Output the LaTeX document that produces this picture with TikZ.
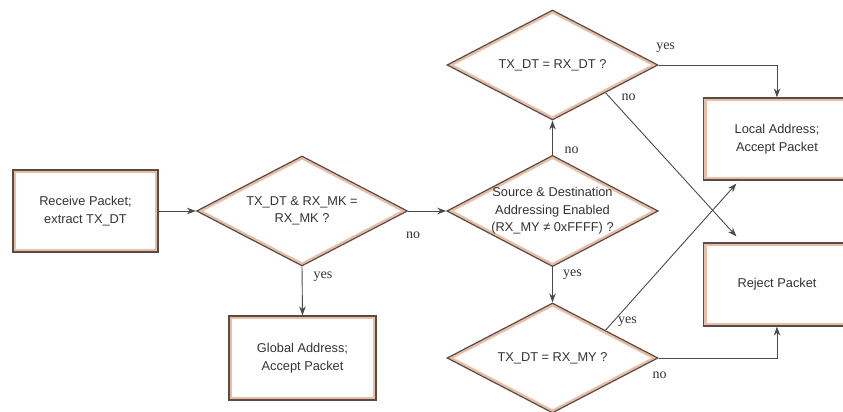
\documentclass[tikz,border=0pt]{standalone}
\usepackage{fontspec}
\usepackage{tikz}
\usetikzlibrary{arrows.meta}
\usetikzlibrary{shapes.geometric}
\newfontfamily\boxfont{Liberation Sans}
\newfontfamily\labfont{Liberation Serif}
\definecolor{edgebrown}{HTML}{5A4A44}
\definecolor{bandtan}{HTML}{E8BFA6}
\definecolor{textgray}{HTML}{333333}
\definecolor{wiregray}{HTML}{4A4A4A}
\tikzset{
frame/.style={draw=edgebrown, line width=1.2pt, fill=white, text=textgray, align=center,
  font=\boxfont\fontsize{12.8}{17.5}\selectfont},
box/.style={frame, rectangle, minimum width=147pt, minimum height=83pt,
  path picture={\draw[bandtan, line width=6pt] (path picture bounding box.south west) rectangle (path picture bounding box.north east);}},
test/.style={frame, diamond, shape aspect=1.9, inner sep=0pt, minimum width=211pt, minimum height=110pt,
  path picture={\draw[bandtan, line width=6pt] (path picture bounding box.north) -- (path picture bounding box.east) -- (path picture bounding box.south) -- (path picture bounding box.west) -- cycle;}},
wire/.style={draw=wiregray, line width=0.9pt, -{Stealth[length=9pt, width=6.5pt]}},
lab/.style={text=textgray, font=\labfont\fontsize{14}{16}\selectfont, inner sep=0pt}
}
\begin{document}
\begin{tikzpicture}[x=1pt, y=1pt]
    \useasboundingbox (0,0) rectangle (843,412);

                \node[box, minimum width=145pt, minimum height=82pt] (recv) at (85.5,201) {Receive Packet;\\extract TX\_DT};
                \node[test] (mask) at (302,201) {TX\_DT \& RX\_MK =\\RX\_MK ?};
                \node[box, minimum height=84pt] (glob) at (302.5,54) {Global Address;\\Accept Packet};
                \node[test, minimum height=106pt] (srcdst) at (552.5,201) {Source \& Destination\\Addressing Enabled\\(RX\_MY ≠ 0xFFFF) ?};
                \node[test] (dtchk) at (552.5,347) {TX\_DT = RX\_DT ?};
                \node[test] (mychk) at (552.5,54) {TX\_DT = RX\_MY ?};
                \node[box, minimum height=82pt] (local) at (777,273) {Local Address;\\Accept Packet};
                \node[box] (reject) at (777,127.5) {Reject Packet};

                \draw[wire] (recv) -- (mask);
                \draw[wire] (mask.east) -- (srcdst.west) node[lab, pos=0, xshift=5pt, yshift=-24pt] {no};
                \draw[wire] (mask.south) -- (glob.north) node[lab, pos=0, xshift=21pt, yshift=-10pt] {yes};
                \draw[wire] (srcdst.north) -- (dtchk.south) node[lab, pos=0, xshift=19pt, yshift=4pt] {no};
                \draw[wire] (srcdst.south) -- (mychk.north) node[lab, pos=0, xshift=20pt, yshift=-7pt] {yes};
                \draw[wire] (dtchk.east) -| (local.north) node[lab, pos=0, xshift=7pt, yshift=17pt] {yes};
                \draw[wire] (dtchk.south east) -- ([xshift=33.5pt, yshift=6pt]reject.north west) node[lab, pos=0, xshift=23pt, yshift=-4pt] {no};
                \draw[wire] (mychk.north east) -- ([xshift=33.5pt, yshift=-3pt]local.south west) node[lab, pos=0, xshift=22pt, yshift=8pt] {yes};
                \draw[wire] (mychk.east) -| (reject.south) node[lab, pos=0, xshift=1pt, yshift=-17pt] {no};

            \end{tikzpicture}
\end{document}
